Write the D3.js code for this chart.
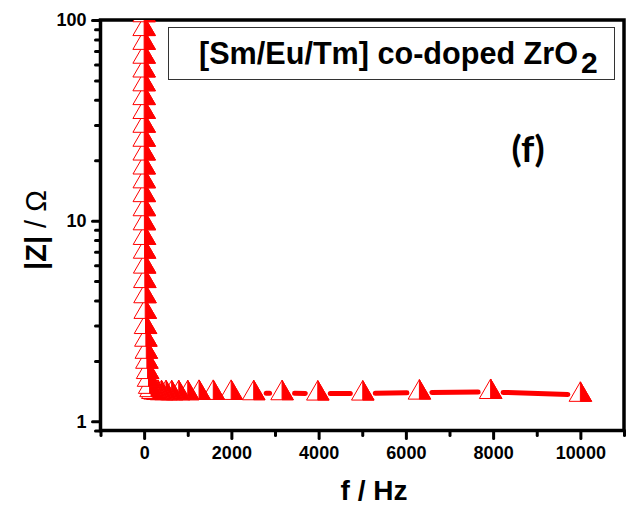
<!DOCTYPE html>
<html lang="en">
<head>
<meta charset="UTF-8">
<title>|Z| vs f</title>
<style>
  body { margin: 0; background: #fff; }
  svg { display: block; font-family: Arial, 'Liberation Sans', sans-serif; }
</style>
</head>
<body>
<div id="chart"></div>
<script src="https://cdn.jsdelivr.net/npm/d3@7/dist/d3.min.js"></script>
<script>
// frequency in Hz (high -> low) and |Z| in ohm
var freq = [10000, 7943, 6310, 5012, 3981, 3162, 2512, 1995, 1585, 1259,
            1000, 794, 631, 501, 398, 316, 251, 200, 158, 126,
            100, 79.4, 63.1, 50.1, 39.8, 31.6, 25.1, 20, 15.8, 12.6,
            10, 7.94, 6.31, 5.01, 3.98, 3.16, 2.51, 2.0, 1.58, 1.26,
            1.0, 0.794, 0.631, 0.501, 0.398, 0.316, 0.251, 0.2];
var zmod = [1.355, 1.40, 1.39, 1.375, 1.375, 1.38, 1.38, 1.385, 1.385, 1.385,
            1.38, 1.38, 1.38, 1.38, 1.38, 1.385, 1.39, 1.40, 1.43, 1.485,
            1.61, 1.76, 1.98, 2.22, 2.55, 2.95, 3.51, 4.2, 5.0, 5.9,
            7.0, 8.2, 9.7, 11.4, 13.4, 15.7, 18.4, 21.6, 25.3, 29.7,
            34.8, 40.8, 47.8, 56.0, 65.6, 76.9, 90.1, 105.6];

var xTicks = [0, 2000, 4000, 6000, 8000, 10000];
var xMinor = [-1000, 1000, 3000, 5000, 7000, 9000, 11000];
var yTicks = [1, 10, 100];
var yMinor = [0.9, 2, 3, 4, 5, 6, 7, 8, 9, 20, 30, 40, 50, 60, 70, 80, 90];

var W = 629, H = 508;
var pL = 100.5, pR = 624, pT = 20, pB = 430.5;   // plot frame
var red = '#ff0000';

var svg = d3.select('#chart').append('svg').attr('width', W).attr('height', H);
svg.append('rect').attr('width', W).attr('height', H).attr('fill', '#fff');

var x = d3.scaleLinear().domain([-1000, 11000]).range([pL, pR]);
var y = d3.scaleLog().domain([0.9, 100]).range([pB, pT]);

// clip to the frame
svg.append('clipPath').attr('id', 'plotclip')
   .append('rect').attr('x', pL).attr('y', pT).attr('width', pR - pL).attr('height', pB - pT);

// axes (ticks only, frame drawn below)
function styleAxis(g) {
    g.select('.domain').remove();
    g.selectAll('.tick line').attr('stroke', '#000').attr('stroke-width', 3).attr('stroke-linecap', 'round');
    g.selectAll('.tick text').attr('fill', '#000').style('font-size', '18px').style('font-weight', 'bold')
     .style('font-family', "Arial, 'Liberation Sans', sans-serif");
}
svg.append('g').attr('transform', 'translate(0,' + pB + ')')
   .call(d3.axisBottom(x).tickValues(xMinor).tickSize(5).tickFormat(''))
   .call(styleAxis);
svg.append('g').attr('transform', 'translate(0,' + pB + ')')
   .call(d3.axisBottom(x).tickValues(xTicks).tickSize(8).tickPadding(8).tickFormat(d3.format('d')))
   .call(styleAxis);
svg.append('g').attr('transform', 'translate(' + pL + ',0)')
   .call(d3.axisLeft(y).tickValues(yMinor).tickSize(5).tickFormat(''))
   .call(styleAxis);
svg.append('g').attr('transform', 'translate(' + pL + ',0)')
   .call(d3.axisLeft(y).tickValues(yTicks).tickSize(8).tickPadding(6).tickFormat(d3.format('d')))
   .call(styleAxis);

// frame
svg.append('rect').attr('x', pL).attr('y', pT).attr('width', pR - pL).attr('height', pB - pT)
   .attr('fill', 'none').attr('stroke', '#000').attr('stroke-width', 3.5);

var pts = freq.map(function(f, i) { return [x(f), y(zmod[i])]; });
var plot = svg.append('g').attr('clip-path', 'url(#plotclip)');

// connecting line with gaps around the symbols
var gap = 12.5;
for (var i = 0; i < pts.length - 1; i++) {
    var p = pts[i], q = pts[i + 1];
    var dx = q[0] - p[0], dy = q[1] - p[1], d = Math.sqrt(dx * dx + dy * dy);
    if (d <= 2 * gap + 1) continue;
    plot.append('line')
        .attr('x1', p[0] + dx / d * gap).attr('y1', p[1] + dy / d * gap)
        .attr('x2', q[0] - dx / d * gap).attr('y2', q[1] - dy / d * gap)
        .attr('stroke', red).attr('stroke-width', 5).attr('stroke-linecap', 'round');
}

// half-right filled triangles
var r = 13, hw = r * Math.sqrt(3) / 2;
var tri = 'M0,' + (-r) + 'L' + hw + ',' + (r / 2) + 'L' + (-hw) + ',' + (r / 2) + 'Z';
var half = 'M0,' + (-r) + 'L' + hw + ',' + (r / 2) + 'L0,' + (r / 2) + 'Z';
var mk = plot.selectAll('g.mk').data(pts).enter().append('g').attr('class', 'mk')
    .attr('transform', function(d) { return 'translate(' + d[0] + ',' + d[1] + ')'; });
mk.append('path').attr('d', tri).attr('fill', '#fff').attr('stroke', red).attr('stroke-width', 1);
mk.append('path').attr('d', half).attr('fill', red).attr('stroke', red).attr('stroke-width', 1);

// legend box
svg.append('rect').attr('x', 168.5).attr('y', 27.5).attr('width', 446).attr('height', 52)
   .attr('fill', '#fff').attr('stroke', '#333').attr('stroke-width', 1);
svg.append('text').attr('x', 199).attr('y', 64).style('font-size', '31px').style('font-weight', 'bold')
   .attr('textLength', 379).attr('lengthAdjust', 'spacingAndGlyphs')
   .text('[Sm/Eu/Tm] co-doped ZrO');
svg.append('text').attr('x', 581).attr('y', 73).style('font-size', '30px').style('font-weight', 'bold').text('2');

// panel label
svg.append('text').attr('x', 528).attr('y', 162).attr('text-anchor', 'middle')
   .style('font-family', "Lato, 'Open Sans', sans-serif").style('font-size', '37px').style('font-weight', 'bold')
   .text('(f)');

// axis titles
svg.append('text').attr('x', 374).attr('y', 500).attr('text-anchor', 'middle')
   .style('font-size', '28px').style('font-weight', 'bold').text('f / Hz');
var yt = svg.append('text').attr('transform', 'translate(46,230) rotate(-90)').attr('text-anchor', 'middle')
   .style('font-size', '29px');
yt.append('tspan').style('font-weight', 'bold').text('|Z|');
yt.append('tspan').text(' / Ω');
</script>
</body>
</html>
